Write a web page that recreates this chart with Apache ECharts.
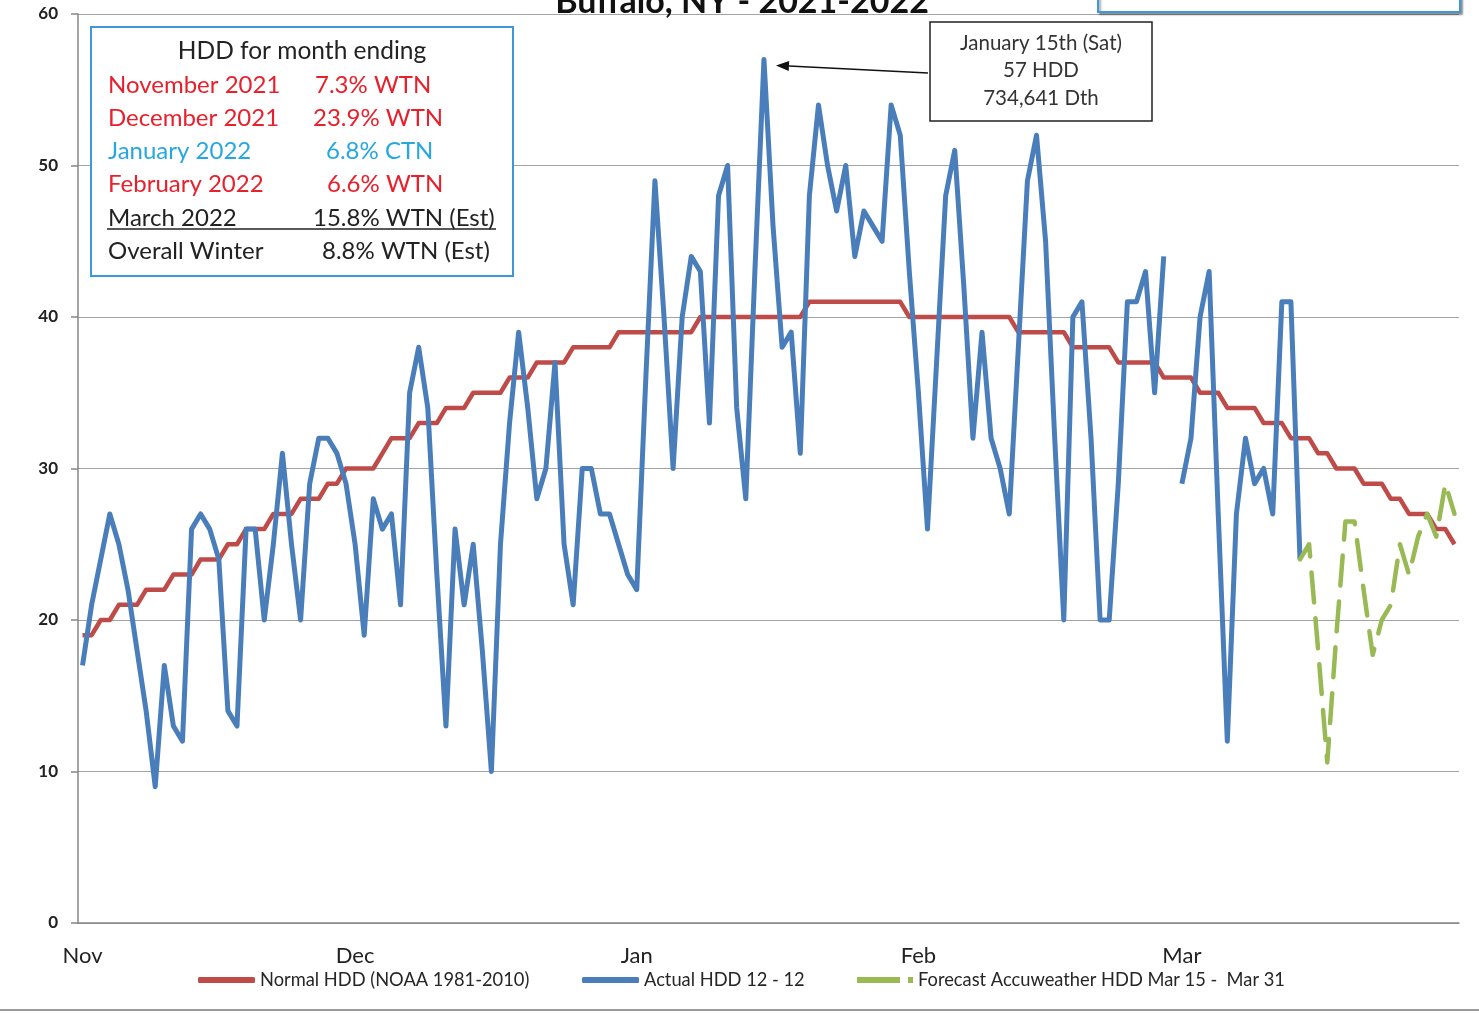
<!DOCTYPE html>
<html>
<head>
<meta charset="UTF-8">
<title>Buffalo, NY - 2021-2022</title>
<style>
  html, body { margin: 0; padding: 0; background: #fff; }
  #chart { width: 1479px; height: 1013px; }
</style>
<script src="https://cdn.jsdelivr.net/npm/echarts@6/dist/echarts.min.js"></script>
</head>
<body>
<div id="chart"></div>
<script>
  // months on the axis (Feb has a blank 29th row in the sheet)
  const monthNames = ['Nov', 'Dec', 'Jan', 'Feb', 'Mar'];
  const monthDays = [30, 31, 31, 29, 31];

  // Normal HDD (NOAA 1981-2010), one value per day Nov 1 .. Mar 31
  const normalHDD = [
    19,19,20,20,21,21,21,22,22,22,23,23,23,24,24,24,25,25,26,26,26,27,27,27,28,28,28,29,29,30,
    30,30,30,31,32,32,32,33,33,33,34,34,34,35,35,35,35,36,36,36,37,37,37,37,38,38,38,38,38,39,39,
    39,39,39,39,39,39,39,40,40,40,40,40,40,40,40,40,40,40,40,41,41,41,41,41,41,41,41,41,41,41,40,
    40,40,40,40,40,40,40,40,40,40,40,39,39,39,39,39,39,38,38,38,38,38,37,37,37,37,37,36,36,
    36,36,35,35,35,34,34,34,34,33,33,33,32,32,32,31,31,30,30,30,29,29,29,28,28,27,27,27,26,26,25
  ];

  // Actual HDD 12 - 12 (null = no reading)
  const actualHDD = [
    17,21,24,27,25,22,18,14,9,17,13,12,26,27,26,24,14,13,26,26,20,25,31,25,20,29,32,32,31,29,
    25,19,28,26,27,21,35,38,34,23,13,26,21,25,18,10,25,33,39,34,28,30,37,25,21,30,30,27,27,25,23,
    22,36,49,40,30,40,44,43,33,48,50,34,28,43,57,46,38,39,31,48,54,50,47,50,44,47,46,45,54,52,43,
    35,26,37,48,51,42,32,39,32,30,27,38,49,52,45,32,20,40,41,32,20,20,29,41,41,43,35,44,null,
    29,32,40,43,27,12,27,32,29,30,27,41,41,24
  ];

  // Forecast Accuweather HDD, starting at the last actual day
  const forecastStart = 134;
  const forecastHDD = [24, 25, 18, 10.6, 19, 26.5, 26.5, 22, 17.7, 20, 21, 25, 23, 25.5, 27, 25.5, 29, 27];

  const peakIndex = 75; // January 15th

  const categories = [];
  monthNames.forEach((m, i) => {
    for (let d = 1; d <= monthDays[i]; d++) categories.push(m + ' ' + d);
  });
  const monthStart = {};
  let acc = 0;
  monthNames.forEach((m, i) => { monthStart[acc] = m; acc += monthDays[i]; });
  const forecastData = categories.map((c, i) =>
    i >= forecastStart && i < forecastStart + forecastHDD.length ? forecastHDD[i - forecastStart] : null);

  const FONT = 'Lato, "Open Sans", sans-serif';
  const RED = '#be4b48', BLUE = '#4a7ebb', GREEN = '#98b954';

  const chart = echarts.init(document.getElementById('chart'));

  const legendBase = {
    orient: 'horizontal',
    top: 969,
    padding: 0,
    itemHeight: 6,
    itemWidth: 57,
    selectedMode: false,
    textStyle: { fontFamily: FONT, fontSize: 18.3, color: '#262626', lineHeight: 22 }
  };

  chart.setOption({
    animation: false,
    backgroundColor: '#fff',
    grid: { left: 78, right: 20, top: 14, bottom: 90 },
    legend: [
      Object.assign({}, legendBase, { left: 198, data: [{ name: 'Normal HDD (NOAA 1981-2010)', icon: 'roundRect' }] }),
      Object.assign({}, legendBase, { left: 582, data: [{ name: 'Actual HDD 12 - 12', icon: 'roundRect' }] }),
      Object.assign({}, legendBase, { left: 857, itemWidth: 56,
        data: [{ name: 'Forecast Accuweather HDD Mar 15 -  Mar 31', icon: 'path://M0 0H43V6H0Z M51 0H56V6H51Z' }] })
    ],
    xAxis: {
      type: 'category',
      data: categories,
      boundaryGap: true,
      axisLine: { lineStyle: { color: '#868686', width: 1.5 } },
      axisTick: { interval: 4, length: 8, lineStyle: { color: '#868686', width: 1.5 } },
      axisLabel: {
        interval: (idx) => monthStart[idx] !== undefined,
        formatter: (v, idx) => monthStart[idx] || '',
        margin: 22,
        fontFamily: FONT, fontSize: 22, color: '#222'
      },
      splitLine: { show: false }
    },
    yAxis: {
      type: 'value',
      min: 0, max: 60, interval: 10,
      axisLine: { show: true, lineStyle: { color: '#868686', width: 1.5 } },
      axisTick: { show: true, length: 7, lineStyle: { color: '#868686', width: 1.5 } },
      axisLabel: { margin: 20, fontFamily: FONT, fontSize: 17, fontWeight: 'bold', color: '#222' },
      splitLine: { lineStyle: { color: '#a3a3a3', width: 1.2 } }
    },
    series: [
      {
        name: 'Normal HDD (NOAA 1981-2010)', type: 'line', data: normalHDD,
        symbol: 'none', color: RED,
        lineStyle: { color: RED, width: 4.5, join: 'round' }
      },
      {
        name: 'Actual HDD 12 - 12', type: 'line', data: actualHDD,
        symbol: 'none', color: BLUE, connectNulls: false,
        lineStyle: { color: BLUE, width: 5, join: 'round' }
      },
      {
        name: 'Forecast Accuweather HDD Mar 15 -  Mar 31', type: 'line', data: forecastData,
        symbol: 'none', color: GREEN,
        lineStyle: { color: GREEN, width: 4.5, type: [30, 16], cap: 'round', join: 'round' }
      }
    ]
  });

  // annotations
  const peak = chart.convertToPixel({ xAxisIndex: 0, yAxisIndex: 0 }, [peakIndex, actualHDD[peakIndex]]);
  const tip = [peak[0] + 12, peak[1] + 6];
  const tail = [928, 73];
  const ang = Math.atan2(tail[1] - tip[1], tail[0] - tip[0]);
  const ah = 13, aw = 5;
  const base = [tip[0] + ah * Math.cos(ang), tip[1] + ah * Math.sin(ang)];
  const arrowHead = [
    tip,
    [base[0] + aw * Math.sin(ang), base[1] - aw * Math.cos(ang)],
    [base[0] - aw * Math.sin(ang), base[1] + aw * Math.cos(ang)]
  ];

  const infoRows = [
    ['November 2021', '7.3% WTN', '#e8202c', 315],
    ['December 2021', '23.9% WTN', '#e8202c', 313],
    ['January 2022', '6.8% CTN', '#27a7e0', 326],
    ['February 2022', '6.6% WTN', '#e8202c', 327],
    ['March 2022', '15.8% WTN (Est)', '#222', 313],
    ['Overall Winter', '8.8% WTN (Est)', '#222', 322]
  ];
  const infoTexts = [];
  infoRows.forEach((r, i) => {
    const y = 85 + i * 33.2;
    infoTexts.push({ type: 'text', style: { text: r[0], x: 108, y: y, fill: r[2], font: '24px ' + FONT, textAlign: 'left', textVerticalAlign: 'middle' } });
    infoTexts.push({ type: 'text', style: { text: r[1], x: r[3], y: y, fill: r[2], font: '24px ' + FONT, textAlign: 'left', textVerticalAlign: 'middle' } });
  });

  chart.setOption({
    graphic: [
      // cut-off title and legend frame at top edge
      { type: 'text', z: 50, style: { text: 'Buffalo, NY - 2021-2022', x: 742, y: 19, fill: '#111',
        font: 'bold 34px ' + FONT, textAlign: 'center', textVerticalAlign: 'bottom' } },
      { type: 'rect', z: 50, shape: { x: 1098, y: -30, width: 362, height: 42 },
        style: { fill: '#fff', stroke: '#3f97d8', lineWidth: 2, shadowColor: 'rgba(0,0,0,0.35)', shadowOffsetX: 2, shadowOffsetY: 2, shadowBlur: 2 } },
      // chart frame bottom
      { type: 'line', z: 50, shape: { x1: 0, y1: 1010, x2: 1479, y2: 1010 }, style: { stroke: '#9a9a9a', lineWidth: 2 } },
      // info box
      { type: 'group', z: 60, children: [
        { type: 'rect', shape: { x: 91, y: 27, width: 422, height: 249 }, style: { fill: '#fff', stroke: '#3f97d8', lineWidth: 2 } },
        { type: 'text', style: { text: 'HDD for month ending', x: 302, y: 51, fill: '#222', font: '24.5px ' + FONT, textAlign: 'center', textVerticalAlign: 'middle' } },
        { type: 'line', shape: { x1: 107, y1: 229, x2: 496, y2: 229 }, style: { stroke: '#222', lineWidth: 1.5 } }
      ].concat(infoTexts) },
      // peak callout
      { type: 'group', z: 60, children: [
        { type: 'rect', shape: { x: 930, y: 22, width: 222, height: 99 }, style: { fill: '#fff', stroke: '#222', lineWidth: 1.5 } },
        { type: 'text', style: { text: 'January 15th (Sat)', x: 1041, y: 43, fill: '#333', font: '20.5px ' + FONT, textAlign: 'center', textVerticalAlign: 'middle' } },
        { type: 'text', style: { text: '57 HDD', x: 1041, y: 70, fill: '#333', font: '20.5px ' + FONT, textAlign: 'center', textVerticalAlign: 'middle' } },
        { type: 'text', style: { text: '734,641 Dth', x: 1041, y: 98, fill: '#333', font: '20.5px ' + FONT, textAlign: 'center', textVerticalAlign: 'middle' } },
        { type: 'line', shape: { x1: tail[0], y1: tail[1], x2: base[0], y2: base[1] }, style: { stroke: '#111', lineWidth: 1.5 } },
        { type: 'polygon', shape: { points: arrowHead }, style: { fill: '#111' } }
      ] }
    ]
  });
</script>
</body>
</html>
